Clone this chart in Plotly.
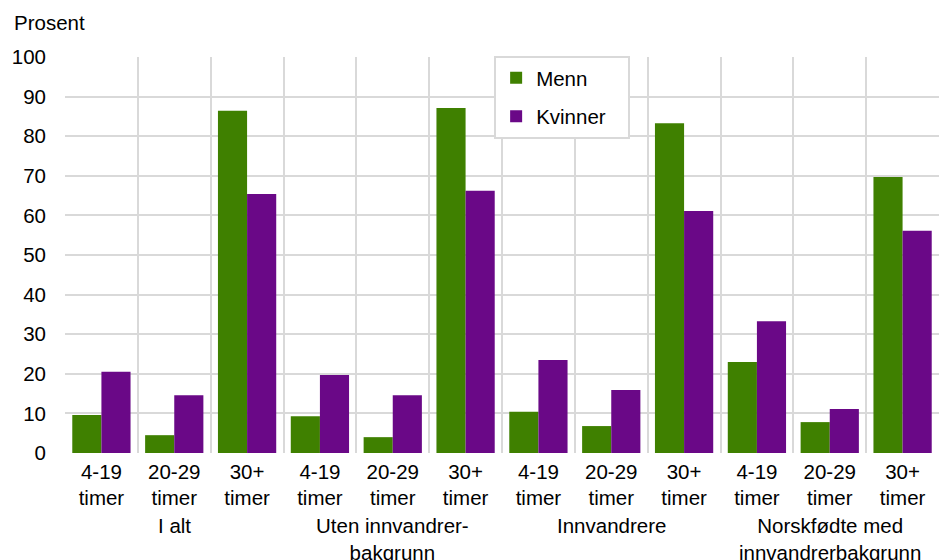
import plotly.graph_objects as go

sub_labels = ["4-19<br>timer", "20-29<br>timer", "30+<br>timer"] * 4
groups = ["I alt", "Uten innvandrer-<br>bakgrunn", "Innvandrere", "Norskfødte med<br>innvandrerbakgrunn"]
series_names = ["Menn", "Kvinner"]
menn = [9.6, 4.5, 86.4, 9.3, 4.0, 87.1, 10.4, 6.8, 83.3, 23.0, 7.8, 69.7]
kvinner = [20.5, 14.6, 65.4, 19.7, 14.6, 66.2, 23.5, 15.9, 61.1, 33.3, 11.1, 56.1]
y_ticks = list(range(0, 101, 10))

FONT = "Liberation Sans, Arial, sans-serif"
FS = 20.5
GREEN = "#3F8000"
PURPLE = "#6A0887"
GRID = "#D9D9D9"
PAD = "\u00a0" * 3  # widen legend box like the reference

n = len(menn)
xs = list(range(n))

fig = go.Figure()
fig.add_trace(go.Bar(x=xs, y=menn, name=series_names[0], marker_color=GREEN,
                     marker_line_width=0, legendgroup="m"))
fig.add_trace(go.Bar(x=xs, y=kvinner, name=series_names[1] + PAD, marker_color=PURPLE,
                     marker_line_width=0, legendgroup="k"))

annotations = []
for i, g in enumerate(groups):
    annotations.append(dict(x=3 * i + 1, y=-0.15, xref="x", yref="paper",
                            text=g, showarrow=False, yanchor="top",
                            font=dict(family=FONT, size=FS, color="#000")))
annotations.append(dict(xref="x domain", yref="y domain", x=-0.0606, y=1.088,
                        text="Prosent", showarrow=False, xanchor="left",
                        yanchor="middle",
                        font=dict(family=FONT, size=FS, color="#000")))

fig.update_layout(
    width=939, height=560,
    margin=dict(l=65, r=0, t=57, b=107),
    paper_bgcolor="white", plot_bgcolor="white",
    barmode="group", bargap=0.2, bargroupgap=0,
    font=dict(family=FONT, size=FS, color="#000"),
    showlegend=True,
    legend=dict(x=0.491, y=1.003, xanchor="left", yanchor="top",
                bgcolor="white", bordercolor=GRID, borderwidth=2,
                tracegroupgap=9, font=dict(family=FONT, size=FS, color="#000")),
    annotations=annotations,
    xaxis=dict(range=[-0.5, n - 0.5], tickmode="array", tickvals=xs,
               ticktext=sub_labels, showgrid=False, zeroline=False,
               showline=False, ticks="", ticklabelstandoff=4,
               minor=dict(tickmode="array", tickvals=[i - 0.5 for i in range(n + 1)],
                          showgrid=True, gridcolor=GRID, gridwidth=2, ticks=""),
               tickfont=dict(family=FONT, size=FS, color="#000")),
    yaxis=dict(range=[0, 100], tickmode="array", tickvals=y_ticks,
               showgrid=True, gridcolor=GRID, gridwidth=2, zeroline=False,
               showline=False, ticks="", ticklabelstandoff=18,
               tickfont=dict(family=FONT, size=FS, color="#000")),
)

fig.write_html("out.html", config={"displayModeBar": False},
               post_script="document.body.style.margin='0';document.body.style.overflow='hidden';")
